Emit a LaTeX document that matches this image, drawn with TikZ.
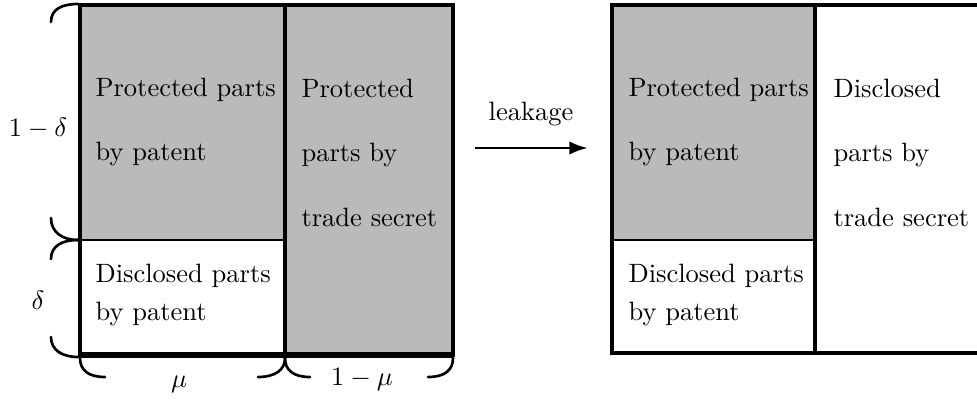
\documentclass[tikz,border=0pt]{standalone}
\usetikzlibrary{arrows.meta}
\begin{document}
\begin{tikzpicture}[x=0.3774pt,y=-0.3774pt,
  cell/.style={draw=black,line width=1.5pt},
  greyfill/.style={fill=black!27},
  divider/.style={line width=0.6pt},
  hook/.style={line width=1pt,line cap=round},
  txt/.style={anchor=base west,inner sep=0pt,align=left},
  lbl/.style={inner sep=1pt},
]
\clip (0,0) rectangle (977,401);

% ---------- left diagram: patent / trade secret split ----------
% (text blocks are placed by the baseline of their last line)
\fill[greyfill] (80,5) rectangle (285,240);
\fill[greyfill] (285,5) rectangle (453,355);
\draw[divider] (80,240) -- (285,240);
\draw[cell] (80,5) rectangle (285,355);
\draw[cell] (285,5) rectangle (453,355);
\draw[line width=2pt] (80,355) -- (453,355);

\node[txt] (pp1) at (95,161) {Protected parts\\[12.3pt]by patent};
\node[txt] (ts1) at (301,226) {Protected\\[12.3pt]parts by\\[12.3pt]trade secret};
\node[txt] (dp1) at (95,320) {Disclosed parts\\[2.3pt]by patent};

% braces on the left (1-delta, delta)
\draw[hook] (78,4) .. controls (62,4) and (51,9) .. (51,22);
\draw[hook] (51,218) .. controls (51,232) and (62,240) .. (78,240);
\draw[hook] (78,240) .. controls (62,240) and (51,246) .. (51,259);
\draw[hook] (51,337) .. controls (51,350) and (62,357) .. (78,357);
\node[lbl] (d1) at (38,128) {$1-\delta$};
\node[lbl] (d0) at (38,300) {$\delta$};

% braces below (mu, 1-mu)
\draw[hook] (80,358) .. controls (80,370) and (88,377) .. (105,377);
\draw[hook] (258,377) .. controls (275,377) and (285,370) .. (285,358);
\draw[hook] (285,358) .. controls (285,370) and (293,377) .. (310,377);
\draw[hook] (428,377) .. controls (445,377) and (453,370) .. (453,358);
\node[lbl] (m0) at (179,384) {$\mu$};
\node[lbl] (m1) at (362,380) {$1-\mu$};

% ---------- leakage arrow ----------
\coordinate (a0) at (475,148);
\coordinate (a1) at (588,148);
\draw[line width=1pt,-{Latex[length=7pt,width=5pt]}] (a0) -- (a1);
\node[anchor=base,inner sep=0pt] (leak) at (531,120) {leakage};

% ---------- right diagram: after leakage ----------
\fill[greyfill] (612,5) rectangle (815,240);
\draw[divider] (612,240) -- (815,240);
\draw[cell] (612,5) rectangle (815,353);
\draw[cell] (815,5) rectangle (990,353);

\node[txt] (pp2) at (628,161) {Protected parts\\[12.3pt]by patent};
\node[txt] (dp2) at (628,320) {Disclosed parts\\[2.3pt]by patent};
\node[txt] (ts2) at (833,226) {Disclosed\\[12.3pt]parts by\\[12.3pt]trade secret};
\end{tikzpicture}
\end{document}
